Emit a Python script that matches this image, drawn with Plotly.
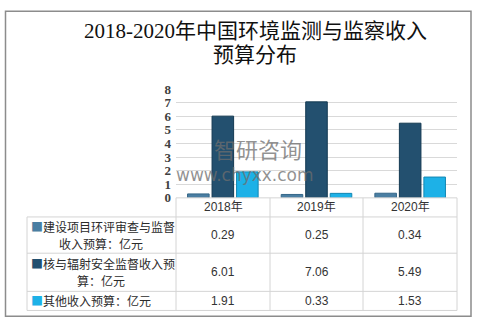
import plotly.graph_objects as go

# Data
years = ["2018年", "2019年", "2020年"]
series_names = [
    "建设项目环评审查与监督收入预算：亿元",
    "核与辐射安全监督收入预算：亿元",
    "其他收入预算：亿元",
]
eia_review = [0.29, 0.25, 0.34]
nuclear_safety = [6.01, 7.06, 5.49]
other_income = [1.91, 0.33, 1.53]
y_ticks = [0, 1, 2, 3, 4, 5, 6, 7, 8]
title_lines = ["2018-2020年中国环境监测与监察收入", "预算分布"]

values = [eia_review, nuclear_safety, other_income]
fill_colors = ["#4a7ea2", "#23506f", "#1db1e7"]
edge_colors = ["#356788", "#143a52", "#1387b3"]

W, H = 478, 328


def px(x):
    return x / W


def py(y):
    return 1 - y / H


fig = go.Figure()
for name, vals, fc, ec in zip(series_names, values, fill_colors, edge_colors):
    fig.add_trace(go.Bar(
        x=years, y=vals, name=name,
        marker=dict(color=fc, line=dict(color=ec, width=1)),
        showlegend=False,
    ))

grid_col = "#d9d9d9"
line_col = "#d4d4d4"

fig.update_layout(
    width=W, height=H,
    margin=dict(l=0, r=0, t=0, b=0),
    paper_bgcolor="white", plot_bgcolor="white",
    barmode="group", bargap=0.215, bargroupgap=0.12,
    xaxis=dict(domain=[px(176), px(457)], showticklabels=False, showgrid=False,
               zeroline=False, showline=False, ticks=""),
    yaxis=dict(domain=[py(200), py(86)], range=[0, 8], tickvals=y_ticks,
               showgrid=True, gridcolor=grid_col, gridwidth=1,
               zeroline=False, showline=False, ticks="",
               tickfont=dict(family="Liberation Serif", size=13, color="#404040",
                             weight="bold"),
               ticklabelstandoff=4),
    font=dict(family="Noto Sans CJK SC"),
)

# Title, two centred lines
title_font = dict(family="Liberation Serif, Noto Sans CJK SC", size=21, color="#111111")
for line, y in zip(title_lines, [25, 50]):
    fig.add_annotation(
        x=px(255), y=py(y), xref="paper", yref="paper", showarrow=False,
        text=line, font=title_font, xanchor="center", yanchor="middle",
    )

shapes = []
# Outer frame
shapes.append(dict(type="rect", xref="paper", yref="paper",
                   x0=px(5.5), x1=px(471), y0=py(324), y1=py(4.5),
                   line=dict(color="#8c8c8c", width=1.5)))

col_edges = [176, 270, 363, 457]
row_edges = [220, 258, 298, 318]


def hline(x0, x1, y):
    shapes.append(dict(type="line", xref="paper", yref="paper",
                       x0=px(x0), x1=px(x1), y0=py(y), y1=py(y),
                       line=dict(color=line_col, width=1)))


def vline(x, y0, y1):
    shapes.append(dict(type="line", xref="paper", yref="paper",
                       x0=px(x), x1=px(x), y0=py(y0), y1=py(y1),
                       line=dict(color=line_col, width=1)))


# Table grid
hline(176, 457, 200)
for y in row_edges:
    hline(27, 457, y)
for x in col_edges:
    vline(x, 200, 318)
vline(27, 220, 318)
fig.update_layout(shapes=shapes)

table_font = dict(family="Liberation Sans, Noto Sans CJK SC", size=12, color="#333333")
label_font = dict(family="Noto Sans CJK SC", size=12, color="#2b2b2b")

# Header row
for i, yr in enumerate(years):
    cx = (col_edges[i] + col_edges[i + 1]) / 2
    fig.add_annotation(x=px(cx), y=py(210), xref="paper", yref="paper",
                       showarrow=False, text=yr, font=table_font,
                       xanchor="center", yanchor="middle")

# Value cells
row_centers = [239, 278, 308]
for r, vals in enumerate(values):
    for i, v in enumerate(vals):
        cx = (col_edges[i] + col_edges[i + 1]) / 2
        fig.add_annotation(x=px(cx), y=py(row_centers[r]), xref="paper", yref="paper",
                           showarrow=False, text=f"{v:.2f}", font=table_font,
                           xanchor="center", yanchor="middle")

# Row labels with legend keys
row_labels = [
    ("建设项目环评审查与监督", "收入预算：亿元"),
    ("核与辐射安全监督收入预", "算：亿元"),
    ("其他收入预算：亿元", None),
]
label_tops = [(230, 248), (269, 287), (308, None)]
for r, ((first, second), (y1, y2)) in enumerate(zip(row_labels, label_tops)):
    key = f"<span style='color:{fill_colors[r]}'>■</span>"
    fig.add_annotation(x=px(29), y=py(y1), xref="paper", yref="paper",
                       showarrow=False, text=key + first, font=label_font,
                       xanchor="left", yanchor="middle")
    if second:
        fig.add_annotation(x=px(101), y=py(y2), xref="paper", yref="paper",
                           showarrow=False, text=second, font=label_font,
                           xanchor="center", yanchor="middle")

# Watermark
wm_color = "rgba(110,110,110,0.75)"
fig.add_annotation(x=px(258), y=py(148), xref="paper", yref="paper", showarrow=False,
                   text="智研咨询", font=dict(family="Noto Sans CJK SC", size=22,
                                               color=wm_color),
                   xanchor="center", yanchor="middle")
fig.add_annotation(x=px(245), y=py(176), xref="paper", yref="paper", showarrow=False,
                   text="www.chyxx.com", font=dict(family="DejaVu Sans", size=17,
                                                  color=wm_color),
                   xanchor="center", yanchor="middle")

fig.write_html("out.html")
